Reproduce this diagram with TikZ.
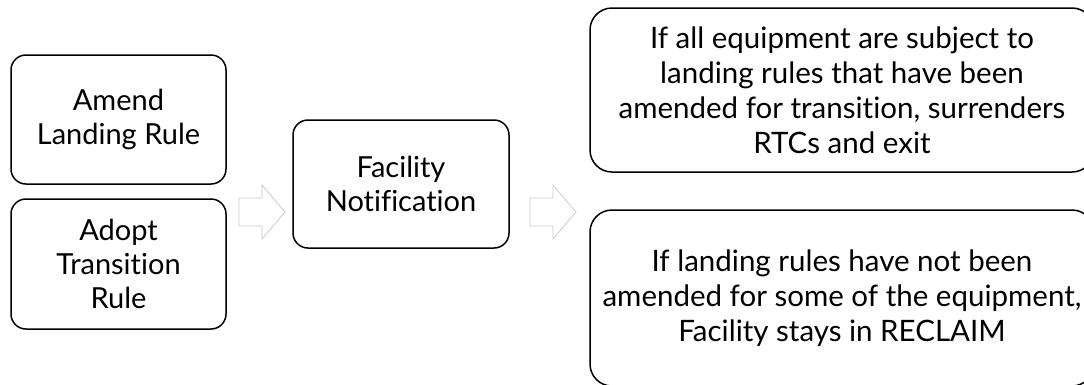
\documentclass[tikz,border=0pt]{standalone}
\usepackage{fontspec}
\setmainfont{Lato}[Ligatures=NoCommon]
\begin{document}
\begin{tikzpicture}[x=1pt,y=-1pt,
  box/.style={draw=black, line width=1.5pt, rounded corners=15pt, align=center, inner sep=0pt,
    font=\fontsize{29}{34}\selectfont},
  bigbox/.style={box, rounded corners=22pt, font=\fontsize{29.5}{35}\selectfont},
  blockarrow/.style={draw=black!20, fill=white, line width=0.8pt}]
\useasboundingbox (0,0) rectangle (1084,384);
\node[box, minimum width=215pt, minimum height=129pt] (amend) at (118.5,119.5) {Amend\\Landing Rule};
\node[box, minimum width=215pt, minimum height=130pt] (adopt) at (118.5,264) {Adopt\\Transition\\Rule};
\node[box, minimum width=216pt, minimum height=128pt] (fac) at (401,184) {Facility\\Notification};
\node[bigbox, minimum width=504pt, minimum height=164pt] (all) at (842,90) {If all equipment are subject to\\landing rules that have been\\amended for transition, surrenders\\RTCs and exit};
\node[bigbox, minimum width=504pt, minimum height=176pt] (some) at (842,298) {If landing rules have not been\\amended for some of the equipment,\\Facility stays in RECLAIM};
% block arrows
\coordinate (a1) at (239,184);
\coordinate (a2) at (530,184);
\foreach \c in {a1,a2}{
  \draw[blockarrow] ([yshift=-14]\c) -- ++(23,0) -- ++(0,-13) -- ++(23,27) -- ++(-23,27) -- ++(0,-13) -- ++(-23,0) -- cycle;
}
\end{tikzpicture}
\end{document}
